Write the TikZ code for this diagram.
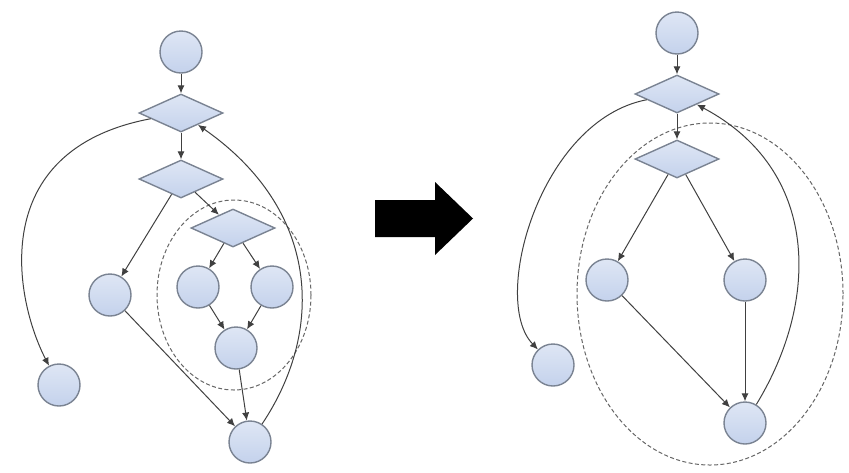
\documentclass[tikz,border=0pt]{standalone}
\usepackage{tikz}
\usetikzlibrary{arrows.meta, shapes.geometric}

\definecolor{nodefill}{HTML}{C4D2EC}
\definecolor{nodeline}{HTML}{7A8392}
\definecolor{edgeline}{HTML}{404040}

\begin{document}
\begin{tikzpicture}[
    x=0.5pt, y=-0.5pt,
    state/.style={circle, draw=nodeline, line width=0.7pt, top color=nodefill!55!white, bottom color=nodefill, minimum size=21pt, inner sep=0pt},
    branch/.style={diamond, draw=nodeline, line width=0.7pt, top color=nodefill!55!white, bottom color=nodefill, minimum width=42pt, minimum height=19pt, inner sep=0pt},
    region/.style={ellipse, draw=gray!80!black, dash pattern=on 2pt off 1.2pt, line width=0.5pt, inner sep=0pt},
    arrow/.style={-{Latex[length=4pt, width=3.6pt]}, draw=edgeline, line width=0.5pt},
    link/.style={draw=edgeline, line width=0.5pt}
]
\useasboundingbox (0,0) rectangle (849,472);

% before: loop with a nested branch
\node[region, minimum width=77pt, minimum height=95pt] (lring) at (234,295) {};
\node[state] (ltop) at (181,52) {};
\node[branch] (ld1) at (181,113) {};
\node[branch] (ld2) at (181,179) {};
\node[branch] (ld3) at (233,228) {};
\node[state] (lmid) at (110,295) {};
\node[state] (lin1) at (198,287) {};
\node[state] (lin2) at (272,287) {};
\node[state] (lin3) at (236,348) {};
\node[state] (lfar) at (59,385) {};
\node[state] (lbot) at (250,442) {};

\draw[arrow] (ltop) -- (ld1);
\draw[arrow] (ld1) -- (ld2);
\draw[arrow] (ld2) -- (ld3);
\draw[arrow] (ld2) -- (lmid);
\draw[arrow] (ld3) -- (lin1);
\draw[arrow] (ld3) -- (lin2);
\draw[arrow] (lin1) -- (lin3);
\draw[arrow] (lin2) -- (lin3);
\draw[arrow] (lin3) -- (lbot);
\draw[arrow] (lmid) -- (lbot);
\draw[arrow] (ld1) .. controls (-15,150) and (15,300) .. (lfar);
\draw[arrow] (lbot) .. controls (325,330) and (320,210) .. (ld1);

% the block arrow between the two graphs
\fill[black] (375,200) -- (435,200) -- (435,182) -- (473,218.5) -- (435,255)
    -- (435,237) -- (375,237) -- cycle;

% after: the inner branch merged
\node[region, minimum width=133pt, minimum height=171pt] (rring) at (710,294) {};
\node[state] (rtop) at (677,33) {};
\node[branch] (rd1) at (677,94) {};
\node[branch] (rd2) at (677,159) {};
\node[state] (rleft) at (607,280) {};
\node[state] (rright) at (745,280) {};
\node[state] (rfar) at (553,365) {};
\node[state] (rbot) at (745,423) {};

\draw[arrow] (rtop) -- (rd1);
\draw[arrow] (rd1) -- (rd2);
\draw[arrow] (rd2) -- (rleft);
\draw[arrow] (rd2) -- (rright);
\draw[arrow] (rleft) -- (rbot);
\draw[arrow] (rright) -- (rbot);
\draw[arrow] (rd1) .. controls (540,120) and (490,300) .. (rfar);
\draw[arrow] (rbot) .. controls (820,300) and (820,170) .. (rd1);

\end{tikzpicture}
\end{document}
